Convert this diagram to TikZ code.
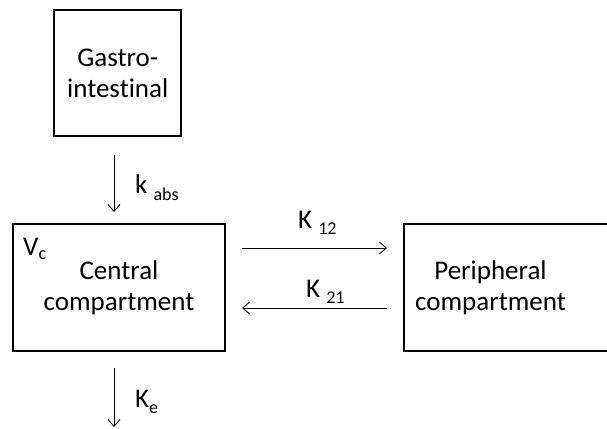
\documentclass[tikz,border=0pt]{standalone}
\usepackage{fontspec}
\setmainfont[Ligatures=NoCommon]{Carlito}
\usetikzlibrary{arrows.meta,calc}
\newcommand\lowsub[2][6pt]{\raisebox{-#1}{\fontsize{18}{18}\selectfont #2}}
\begin{document}
\begin{tikzpicture}[x=1pt,y=-1pt,
  box/.style={draw, line width=2pt, inner sep=0pt, align=center, font=\fontsize{27}{31}\selectfont},
  txt/.style={inner sep=0pt, align=center, font=\fontsize{27}{31}\selectfont},
  lbl/.style={anchor=base west, inner sep=0pt, font=\fontsize{27}{31}\selectfont},
  arr/.style={line width=0.8pt, -{Straight Barb[length=7pt,width=12pt]}}]
\useasboundingbox (0,0) rectangle (607,428);
% boxes
\node[box, minimum width=127pt, minimum height=126pt] (gi) at (117.75,73) {Gastro-\\intestinal};
\node[box, minimum width=212pt, minimum height=127pt] (central) at (119,287.5) {Central\\compartment};
\node[box, minimum width=221pt, minimum height=127pt] (periph) at (514.5,287.5) {};
\node[txt] (ptext) at (490.5,287.5) {Peripheral\\compartment};
% labels
\node[lbl] (kabs) at (135,193) {k \lowsub[7pt]{abs}};
\node[lbl] (vc) at (23,255) {V\lowsub[4pt]{c}};
\node[lbl] (k12) at (298,228) {K \lowsub{12}};
\node[lbl] (k21) at (306,297) {K \lowsub{21}};
\node[lbl] (ke) at (135,407) {K\lowsub{e}};
% arrows
\coordinate (keend) at (114,427);
\draw[arr] ($(gi.south)+(-3.75,18)$) -- ($(central.north)+(-5,-11)$);
\draw[arr] ($(central.east)+(16,-39.5)$) -- ($(periph.west)+(-16,-39.5)$);
\draw[arr] ($(periph.west)+(-16,20.5)$) -- ($(central.east)+(16,20.5)$);
\draw[arr] ($(central.south)+(-5,16)$) -- (keend);
\end{tikzpicture}
\end{document}
